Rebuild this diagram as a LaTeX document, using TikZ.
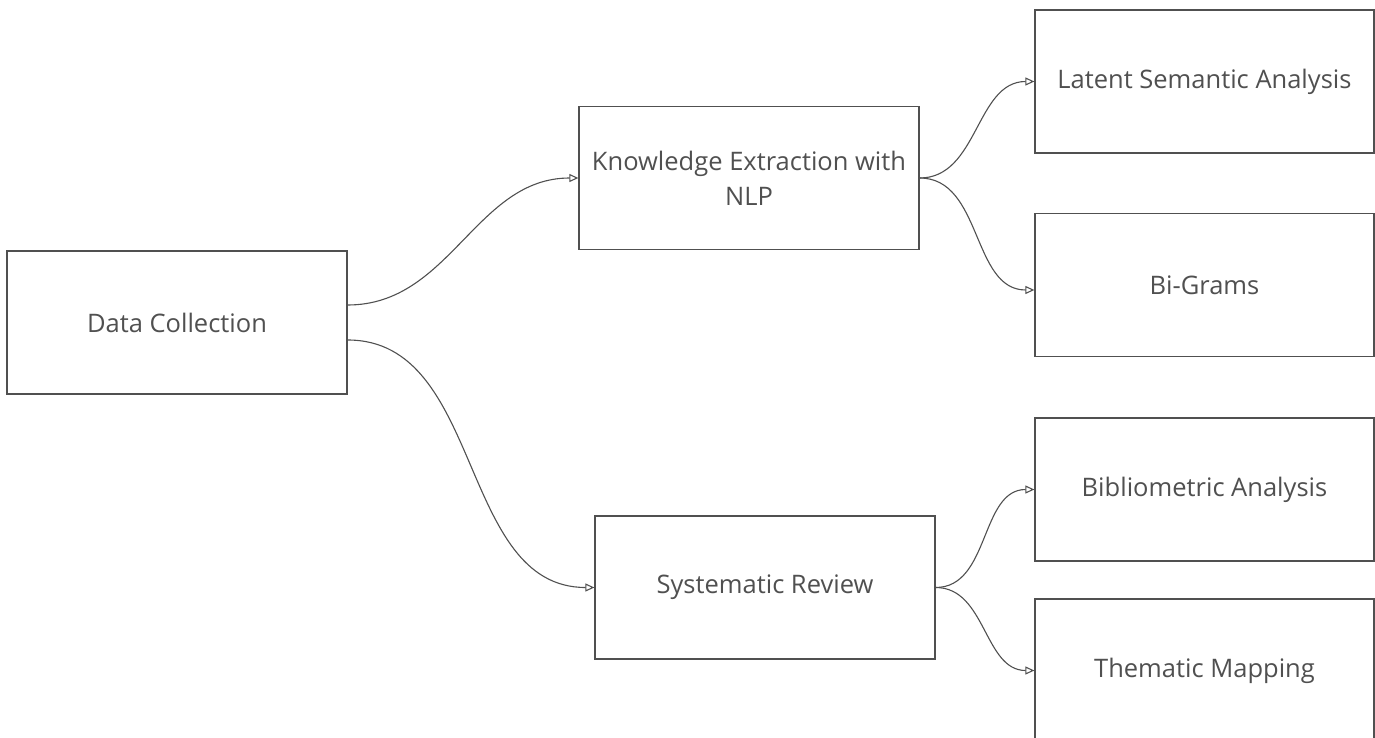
\documentclass[tikz,border=0pt]{standalone}
\usepackage{fontspec}
\setmainfont{Open Sans}
\usepackage{tikz}
\usetikzlibrary{positioning,arrows.meta}
\definecolor{boxline}{HTML}{505050}
\definecolor{boxtext}{HTML}{505050}
\tikzset{
  stagebox/.style = {rectangle, draw=boxline, line width=1.3pt, align=center,
    text=boxtext, font=\fontsize{25.5}{35}\selectfont, inner sep=0pt,
    minimum width=340pt, minimum height=143pt},
  leafbox/.style = {stagebox, minimum width=339pt},% right column
  link/.style = {draw=boxline, line width=1.1pt, ->}
}
\begin{document}
\begin{tikzpicture}[x=1pt,y=-1pt,>={Triangle[open,length=9pt,width=8pt]}]
\useasboundingbox (0,0) rectangle (1375,738);
\clip (0,0) rectangle (1375,738);
% \node [stagebox] {...}
    \node [stagebox] (data) at (177,322.5) {Data Collection};
    \node [stagebox] (know) at (749,178) {Knowledge Extraction with\\NLP};
    \node [stagebox] (sys)  at (765,587.5) {Systematic Review};
    \node [leafbox] (lsa)  at (1204.5,81.5) {Latent Semantic Analysis};
    \node [leafbox] (bigr) at (1204.5,285) {Bi-Grams};
    \node [leafbox] (bib)  at (1204.5,489.5) {Bibliometric Analysis};
    \node [leafbox] (them) at (1204.5,670.5) {Thematic Mapping};

    \draw [link] ([yshift=17.5pt]data.east) to[out=0,in=180] (know.west);
    \draw [link] ([yshift=-17.5pt]data.east) to[out=0,in=180] (sys.west);
    \draw [link] (know.east) to[out=0,in=180] (lsa.west);
    \draw [link] (know.east) to[out=0,in=180] ([yshift=-5pt]bigr.west);
    \draw [link] (sys.east) to[out=0,in=180] (bib.west);
    \draw [link] (sys.east) to[out=0,in=180] (them.west);
\end{tikzpicture}
\end{document}
